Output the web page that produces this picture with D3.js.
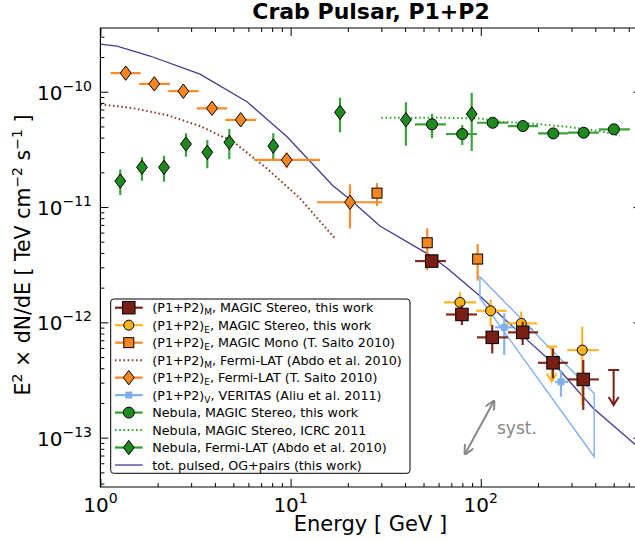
<!DOCTYPE html>
<html><head><meta charset="utf-8">
<script src="https://cdn.jsdelivr.net/npm/d3@7"></script>
<style>body{margin:0;background:#fff}svg{display:block}text{font-family:"DejaVu Sans",sans-serif}</style>
</head><body><svg id="c" width="635" height="542"></svg>
<script>
// ---------------- data ----------------
// (P1+P2)_M MAGIC Stereo (this work)
const stereoM_E   = [55.2, 79.6, 114.9, 166.1, 239.7, 345.9];
const stereoM_F   = [3.40e-12, 1.17e-12, 7.41e-13, 8.19e-13, 4.46e-13, 3.20e-13];
const stereoM_Elo = [45.1, 65.6, 95.5, 139, 200, 287];
const stereoM_Ehi = [65.6, 95.5, 139, 200, 287, 418];
const stereoM_Flo = [3.03e-12, 9.48e-13, 5.38e-13, 6.36e-13, 3.27e-13, 1.74e-13];
const stereoM_Fhi = [3.84e-12, 1.41e-12, 9.48e-13, 1.01e-12, 5.95e-13, 4.71e-13];
const stereoM_UL_E = [499.6];
const stereoM_UL_F = [3.86e-13];
// (P1+P2)_E MAGIC Stereo (this work)
const stereoE_E   = [77.7, 112.7, 163.3, 341.7];
const stereoE_F   = [1.49e-12, 1.26e-12, 9.80e-13, 5.75e-13];
const stereoE_Elo = [64.05, 94.4, 136.8, 284.9];
const stereoE_Ehi = [94.4, 136.8, 198.2, 416.9];
const stereoE_Flo = [1.22e-12, 9.29e-13, 7.02e-13, 1.92e-13];
const stereoE_Fhi = [1.84e-12, 1.58e-12, 1.24e-12, 9.16e-13];
const stereoE_UL_E = [235.9];
const stereoE_UL_F = [6.17e-13];
// (P1+P2)_E MAGIC Mono (T. Saito 2010)
const mono_E   = [28.47, 52.3, 96.3];
const mono_F   = [1.32e-11, 4.90e-12, 3.54e-12];
const mono_Elo = [27.3, 52.3, 96.3];
const mono_Ehi = [29.7, 52.3, 96.3];
const mono_Flo = [1.02e-11, 2.84e-12, 2.30e-12];
const mono_Fhi = [1.62e-11, 6.54e-12, 4.78e-12];
// (P1+P2)_M Fermi-LAT (Abdo et al. 2010) - dotted curve
const abdo_E = [1.0, 1.49, 2.23, 3.34, 5.0, 7.48, 11.2, 17.1];
const abdo_F = [7.78e-11, 7.18e-11, 6.28e-11, 5.04e-11, 3.68e-11, 2.17e-11, 1.19e-11, 5.35e-12];
// (P1+P2)_E Fermi-LAT (T. Saito 2010)
const saito_E   = [1.359, 1.920, 2.729, 3.862, 5.467, 9.54, 20.52];
const saito_F   = [1.45e-10, 1.17e-10, 1.01e-10, 7.18e-11, 5.71e-11, 2.56e-11, 1.10e-11];
const saito_Elo = [1.133, 1.602, 2.275, 3.209, 4.536, 6.42, 13.77];
const saito_Ehi = [1.629, 2.322, 3.287, 4.647, 6.577, 14.28, 30.24];
const saito_Flo = [1.37e-10, 1.10e-10, 0.95e-10, 6.7e-11, 5.3e-11, 2.17e-11, 6.5e-12];
const saito_Fhi = [1.54e-10, 1.25e-10, 1.08e-10, 7.7e-11, 6.1e-11, 2.92e-11, 1.58e-11];
// (P1+P2)_V VERITAS (Aliu et al. 2011)
const ver_E   = [132.9, 167.3, 264.1];
const ver_F   = [9.05e-13, 8.75e-13, 3.05e-13];
const ver_Elo = [118.8, 149.5, 245.6];
const ver_Ehi = [148.2, 188.2, 287.4];
const ver_Flo = [5.21e-13, 7.03e-13, 2.26e-13];
const ver_Fhi = [1.20e-12, 1.09e-12, 3.86e-13];
const verBow_E = [99.0, 394.8, 394.8, 99.0];
const verBow_F = [2.49e-12, 2.42e-13, 6.83e-14, 1.62e-12];
// Nebula MAGIC Stereo (this work)
const nebM_E   = [55.4, 79.9, 115.5, 166.6, 240.5, 347.5, 501];
const nebM_F   = [5.22e-11, 4.30e-11, 5.38e-11, 5.04e-11, 4.35e-11, 4.41e-11, 4.72e-11];
const nebM_Elo = [45.1, 65.6, 95.5, 139, 200, 287, 418];
const nebM_Ehi = [65.6, 95.5, 139, 200, 287, 418, 608];
const nebM_Flo = [3.94e-11, 3.45e-11, 4.97e-11, 4.65e-11, 4.02e-11, 4.07e-11, 4.36e-11];
const nebM_Fhi = [6.41e-11, 5.14e-11, 5.83e-11, 5.46e-11, 4.71e-11, 4.78e-11, 5.11e-11];
// Nebula MAGIC Stereo ICRC 2011 (dotted)
const icrc_E = [30, 60, 100, 126, 189, 283, 423, 539];
const icrc_F = [5.95e-11, 5.95e-11, 5.85e-11, 5.49e-11, 5.28e-11, 4.97e-11, 4.56e-11, 4.15e-11];
// Nebula Fermi-LAT (Abdo et al. 2010)
const nebF_E   = [1.272, 1.654, 2.160, 2.818, 3.648, 4.762, 8.11, 18.19, 40.4, 89.6];
const nebF_F   = [1.68e-11, 2.21e-11, 2.21e-11, 3.52e-11, 2.98e-11, 3.64e-11, 3.38e-11, 6.63e-11, 5.71e-11, 6.41e-11];
const nebF_Flo = [1.27e-11, 1.69e-11, 1.66e-11, 2.73e-11, 2.17e-11, 2.60e-11, 2.56e-11, 4.45e-11, 3.40e-11, 3.06e-11];
const nebF_Fhi = [2.12e-11, 2.70e-11, 2.79e-11, 4.36e-11, 3.81e-11, 4.75e-11, 4.36e-11, 8.87e-11, 8.09e-11, 9.80e-11];
// total pulsed, OG+pairs model
const model_E = [1.0, 1.223, 1.823, 3.34, 5.90, 9.58, 16.7, 20.5, 29.5, 52.8, 66.4, 99.0, 166.7, 248.6, 388.9, 700];
const model_F = [2.59e-10, 2.49e-10, 2.04e-10, 1.42e-10, 8.19e-11, 4.07e-11, 1.53e-11, 1.17e-11, 6.84e-12, 3.91e-12, 2.96e-12, 1.69e-12, 7.60e-13, 4.18e-13, 1.81e-13, 7.8e-14];
// systematic arrow
const syst_E = [82.6, 117.3];
const syst_F = [7.21e-14, 2.08e-13];
const systLabel = "syst.";
const systLabel_E = 121.7, systLabel_F = 1.07e-13;
// axes
const xMajor = [1, 10, 100];
const xMajorExp = ["0", "1", "2"];
const yMajor = [1e-13, 1e-12, 1e-11, 1e-10];
const yMajorExp = ["−13", "−12", "−11", "−10"];
const titleText = "Crab Pulsar, P1+P2";
const xLabel = "Energy [ GeV ]";
const legendLabels = [
  ["(P1+P2)", "M", ", MAGIC Stereo, this work"],
  ["(P1+P2)", "E", ", MAGIC Stereo, this work"],
  ["(P1+P2)", "E", ", MAGIC Mono (T. Saito 2010)"],
  ["(P1+P2)", "M", ", Fermi-LAT (Abdo et al. 2010)"],
  ["(P1+P2)", "E", ", Fermi-LAT (T. Saito 2010)"],
  ["(P1+P2)", "V", ", VERITAS (Aliu et al. 2011)"],
  ["Nebula, MAGIC Stereo, this work", "", ""],
  ["Nebula, MAGIC Stereo, ICRC 2011", "", ""],
  ["Nebula, Fermi-LAT (Abdo et al. 2010)", "", ""],
  ["tot. pulsed, OG+pairs (this work)", "", ""]
];

// ---------------- drawing ----------------
const svg = d3.select("#c");
const X0 = 100.4, X1 = 641.5, Y0 = 28, Y1 = 487;
const x = d3.scaleLog().domain([1, 700]).range([X0, X1]);
const y = d3.scaleLog().domain([3.735e-14, 3.569e-10]).range([Y1, Y0]);

const C = {
  brown: "#7a1f14", gold: "#fbb21f", orange: "#f7861e", abdo: "#8b3b2b",
  blue: "#7fb0ec", green: "#1f8a1f", greenBar: "#2e9e2e", icrc: "#33a533", model: "#3f3b94"
};

svg.append("defs").append("clipPath").attr("id", "clip")
  .append("rect").attr("x", X0).attr("y", Y0).attr("width", X1 - X0).attr("height", Y1 - Y0);
const plot = svg.append("g").attr("clip-path", "url(#clip)");

function zip(E, F, Elo, Ehi, Flo, Fhi) {
  return E.map((e, i) => ({E: e, F: F[i], Elo: Elo ? Elo[i] : e, Ehi: Ehi ? Ehi[i] : e, Flo: Flo ? Flo[i] : F[i], Fhi: Fhi ? Fhi[i] : F[i]}));
}
function errbars(data, color, w) {
  const g = plot.append("g").attr("stroke", color).attr("stroke-width", w || 2.2).attr("stroke-opacity", 0.95);
  data.forEach(d => {
    if (d.Elo !== d.Ehi) g.append("line").attr("x1", x(d.Elo)).attr("x2", x(d.Ehi)).attr("y1", y(d.F)).attr("y2", y(d.F));
    if (d.Flo !== d.Fhi) g.append("line").attr("x1", x(d.E)).attr("x2", x(d.E)).attr("y1", y(d.Flo)).attr("y2", y(d.Fhi));
  });
}
function marker(g, type, cx, cy, size, fill) {
  if (type === "square") {
    g.append("rect").attr("x", cx - size / 2).attr("y", cy - size / 2).attr("width", size).attr("height", size)
      .attr("fill", fill).attr("stroke", "#000").attr("stroke-width", 1);
  } else if (type === "circle") {
    g.append("circle").attr("cx", cx).attr("cy", cy).attr("r", size / 2).attr("fill", fill).attr("stroke", "#000").attr("stroke-width", 1);
  } else if (type === "diamond") {
    const hw = size * 0.45, hh = size * 0.6;
    g.append("path").attr("d", `M${cx},${cy - hh}L${cx + hw},${cy}L${cx},${cy + hh}L${cx - hw},${cy}Z`)
      .attr("fill", fill).attr("stroke", "#000").attr("stroke-width", 1);
  } else if (type === "smallsquare") {
    g.append("rect").attr("x", cx - size / 2).attr("y", cy - size / 2).attr("width", size).attr("height", size).attr("fill", fill);
  }
}
function markers(data, type, size, fill) {
  const g = plot.append("g");
  data.forEach(d => marker(g, type, x(d.E), y(d.F), size, fill));
}
function upperLimits(E, F, color) {
  const g = plot.append("g").attr("stroke", color).attr("stroke-width", 2).attr("fill", "none");
  E.forEach((e, i) => {
    const cx = x(e), cy = y(F[i]), L = 35;
    g.append("line").attr("x1", cx - 5.5).attr("x2", cx + 5.5).attr("y1", cy).attr("y2", cy);
    g.append("line").attr("x1", cx).attr("x2", cx).attr("y1", cy).attr("y2", cy + L);
    g.append("path").attr("d", `M${cx - 5},${cy + L - 8}L${cx},${cy + L}L${cx + 5},${cy + L - 8}`);
  });
}
const line = d3.line().x(d => x(d[0])).y(d => y(d[1]));

// model line (bottom)
plot.append("path").attr("d", line(model_E.map((e, i) => [e, model_F[i]])))
  .attr("fill", "none").attr("stroke", C.model).attr("stroke-width", 1.3);

// VERITAS bowtie
plot.append("path").attr("d", line(verBow_E.map((e, i) => [e, verBow_F[i]])) + "Z")
  .attr("fill", "none").attr("stroke", C.blue).attr("stroke-width", 1.4);

// Fermi Abdo dotted
plot.append("path").attr("d", line(abdo_E.map((e, i) => [e, abdo_F[i]])))
  .attr("fill", "none").attr("stroke", C.abdo).attr("stroke-width", 2).attr("stroke-dasharray", "1.6,2.6");
// ICRC dotted
plot.append("path").attr("d", line(icrc_E.map((e, i) => [e, icrc_F[i]])))
  .attr("fill", "none").attr("stroke", C.icrc).attr("stroke-width", 2).attr("stroke-dasharray", "1.6,2.6");

// Nebula Fermi
const nebF = zip(nebF_E, nebF_F, null, null, nebF_Flo, nebF_Fhi);
errbars(nebF, C.greenBar); markers(nebF, "diamond", 12, C.green);
// Nebula MAGIC
const nebM = zip(nebM_E, nebM_F, nebM_Elo, nebM_Ehi, nebM_Flo, nebM_Fhi);
errbars(nebM, C.greenBar); markers(nebM, "circle", 11, C.green);
// Saito Fermi pulsar
const saito = zip(saito_E, saito_F, saito_Elo, saito_Ehi, saito_Flo, saito_Fhi);
errbars(saito, C.orange); markers(saito, "diamond", 12, C.orange);
// Mono
const mono = zip(mono_E, mono_F, mono_Elo, mono_Ehi, mono_Flo, mono_Fhi);
errbars(mono, C.orange); markers(mono, "square", 10, C.orange);
// VERITAS points
const ver = zip(ver_E, ver_F, ver_Elo, ver_Ehi, ver_Flo, ver_Fhi);
errbars(ver, C.blue); markers(ver, "smallsquare", 7, C.blue);
// Stereo E (gold)
const stE = zip(stereoE_E, stereoE_F, stereoE_Elo, stereoE_Ehi, stereoE_Flo, stereoE_Fhi);
errbars(stE, C.gold); markers(stE, "circle", 10, C.gold);
upperLimits(stereoE_UL_E, stereoE_UL_F, C.gold);
// Stereo M (brown)
const stM = zip(stereoM_E, stereoM_F, stereoM_Elo, stereoM_Ehi, stereoM_Flo, stereoM_Fhi);
errbars(stM, C.brown); markers(stM, "square", 12.5, C.brown);
upperLimits(stereoM_UL_E, stereoM_UL_F, C.brown);

// syst arrow
svg.append("defs").html('<marker id="ah" viewBox="0 0 10 10" refX="9" refY="5" markerWidth="5" markerHeight="5" orient="auto-start-reverse"><path d="M0,0L10,5L0,10" fill="none" stroke="#888" stroke-width="2"/></marker>');
plot.append("line").attr("x1", x(syst_E[0])).attr("y1", y(syst_F[0])).attr("x2", x(syst_E[1])).attr("y2", y(syst_F[1]))
  .attr("stroke", "#888").attr("stroke-width", 2).attr("marker-start", "url(#ah)").attr("marker-end", "url(#ah)");
plot.append("text").attr("x", x(systLabel_E)).attr("y", y(systLabel_F)).attr("font-size", 17).attr("fill", "#888").text(systLabel);

// ---------------- axes ----------------
const xMinor = [], yMinor = [];
[1, 10, 100].forEach(d => { for (let k = 2; k <= 9; k++) if (d * k <= 700) xMinor.push(d * k); });
[1e-14, 1e-13, 1e-12, 1e-11, 1e-10].forEach(d => { for (let k = 2; k <= 9; k++) { const v = d * k; if (v >= 3.735e-14 && v <= 3.569e-10) yMinor.push(v); } });

function axisG(axisFn, scale, vals, size, tx, ty) {
  const g = svg.append("g").attr("transform", `translate(${tx},${ty})`)
    .call(axisFn(scale).tickValues(vals).tickSize(-size).tickSizeOuter(0).tickFormat(""));
  g.select(".domain").remove();
  g.selectAll("line").attr("stroke", "#000").attr("stroke-width", 1);
}
axisG(d3.axisBottom, x, xMajor, 8, 0, Y1); axisG(d3.axisBottom, x, xMinor, 4, 0, Y1);
axisG(d3.axisTop, x, xMajor, 8, 0, Y0); axisG(d3.axisTop, x, xMinor, 4, 0, Y0);
axisG(d3.axisLeft, y, yMajor, 8, X0, 0); axisG(d3.axisLeft, y, yMinor, 4, X0, 0);
axisG(d3.axisRight, y, yMajor, 8, X1, 0); axisG(d3.axisRight, y, yMinor, 4, X1, 0);

svg.append("path").attr("d", `M${X1},${Y0}H${X0}V${Y1}H${X1}V${Y0}`).attr("fill", "none").attr("stroke", "#000").attr("stroke-width", 1.2);

// tick labels
xMajor.forEach((v, i) => {
  const t = svg.append("text").attr("x", x(v)).attr("y", 512).attr("text-anchor", "middle").attr("font-size", 20);
  t.append("tspan").text("10");
  t.append("tspan").attr("font-size", 14).attr("dy", -9).text(xMajorExp[i]);
});
yMajor.forEach((v, i) => {
  const t = svg.append("text").attr("x", 92).attr("y", y(v) + 8).attr("text-anchor", "end").attr("font-size", 20);
  t.append("tspan").text("10");
  t.append("tspan").attr("font-size", 14).attr("dy", -9).text(yMajorExp[i]);
});

// title & axis labels
svg.append("text").attr("x", 371).attr("y", 18.5).attr("text-anchor", "middle").attr("font-size", 22).attr("font-weight", "bold").text(titleText);
svg.append("text").attr("x", 370.5).attr("y", 531).attr("text-anchor", "middle").attr("font-size", 21).text(xLabel);
const yl = svg.append("text").attr("transform", "translate(30,255) rotate(-90)").attr("text-anchor", "middle").attr("font-size", 20.5);
yl.append("tspan").text("E");
yl.append("tspan").attr("font-size", 14).attr("dy", -8).text("2");
yl.append("tspan").attr("dy", 8).text(" × dN/dE  [ TeV cm");
yl.append("tspan").attr("font-size", 14).attr("dy", -8).text("−2");
yl.append("tspan").attr("dy", 8).text(" s");
yl.append("tspan").attr("font-size", 14).attr("dy", -8).text("−1");
yl.append("tspan").attr("dy", 8).text(" ]");

// ---------------- legend ----------------
const lg = svg.append("g");
lg.append("rect").attr("x", 110.7).attr("y", 299).attr("width", 299.3).attr("height", 174.3).attr("rx", 3)
  .attr("fill", "#fff").attr("stroke", "#000").attr("stroke-width", 1);
const legendStyle = [
  {type: "square", col: C.brown, size: 12.5},
  {type: "circle", col: C.gold, size: 10},
  {type: "square", col: C.orange, size: 10},
  {type: "dotted", col: C.abdo},
  {type: "diamond", col: C.orange, size: 12},
  {type: "smallsquare", col: C.blue, size: 7},
  {type: "circle", col: C.green, size: 11, bar: C.greenBar},
  {type: "dotted", col: C.icrc},
  {type: "diamond", col: C.green, size: 12, bar: C.greenBar},
  {type: "line", col: C.model}
];
legendLabels.forEach((lab, i) => {
  const cy = 307.7 + i * 17.48;
  const st = legendStyle[i];
  const hx0 = 115, hx1 = 142.7, hc = 128.8;
  if (st.type === "dotted") {
    lg.append("line").attr("x1", hx0).attr("x2", hx1).attr("y1", cy).attr("y2", cy)
      .attr("stroke", st.col).attr("stroke-width", 2).attr("stroke-dasharray", "1.6,2.6");
  } else if (st.type === "line") {
    lg.append("line").attr("x1", hx0).attr("x2", hx1).attr("y1", cy).attr("y2", cy).attr("stroke", st.col).attr("stroke-width", 1.3);
  } else {
    lg.append("line").attr("x1", hx0).attr("x2", hx1).attr("y1", cy).attr("y2", cy).attr("stroke", st.bar || st.col).attr("stroke-width", 2.2);
    marker(lg, st.type, hc, cy, st.size, st.col);
  }
  const t = lg.append("text").attr("x", 152.3).attr("y", cy + 4.6).attr("font-size", 12.7);
  t.append("tspan").text(lab[0]);
  if (lab[1]) {
    t.append("tspan").attr("font-size", 9).attr("dy", 3).text(lab[1]);
    t.append("tspan").attr("dy", -3).text(lab[2]);
  }
});
</script></body></html>
